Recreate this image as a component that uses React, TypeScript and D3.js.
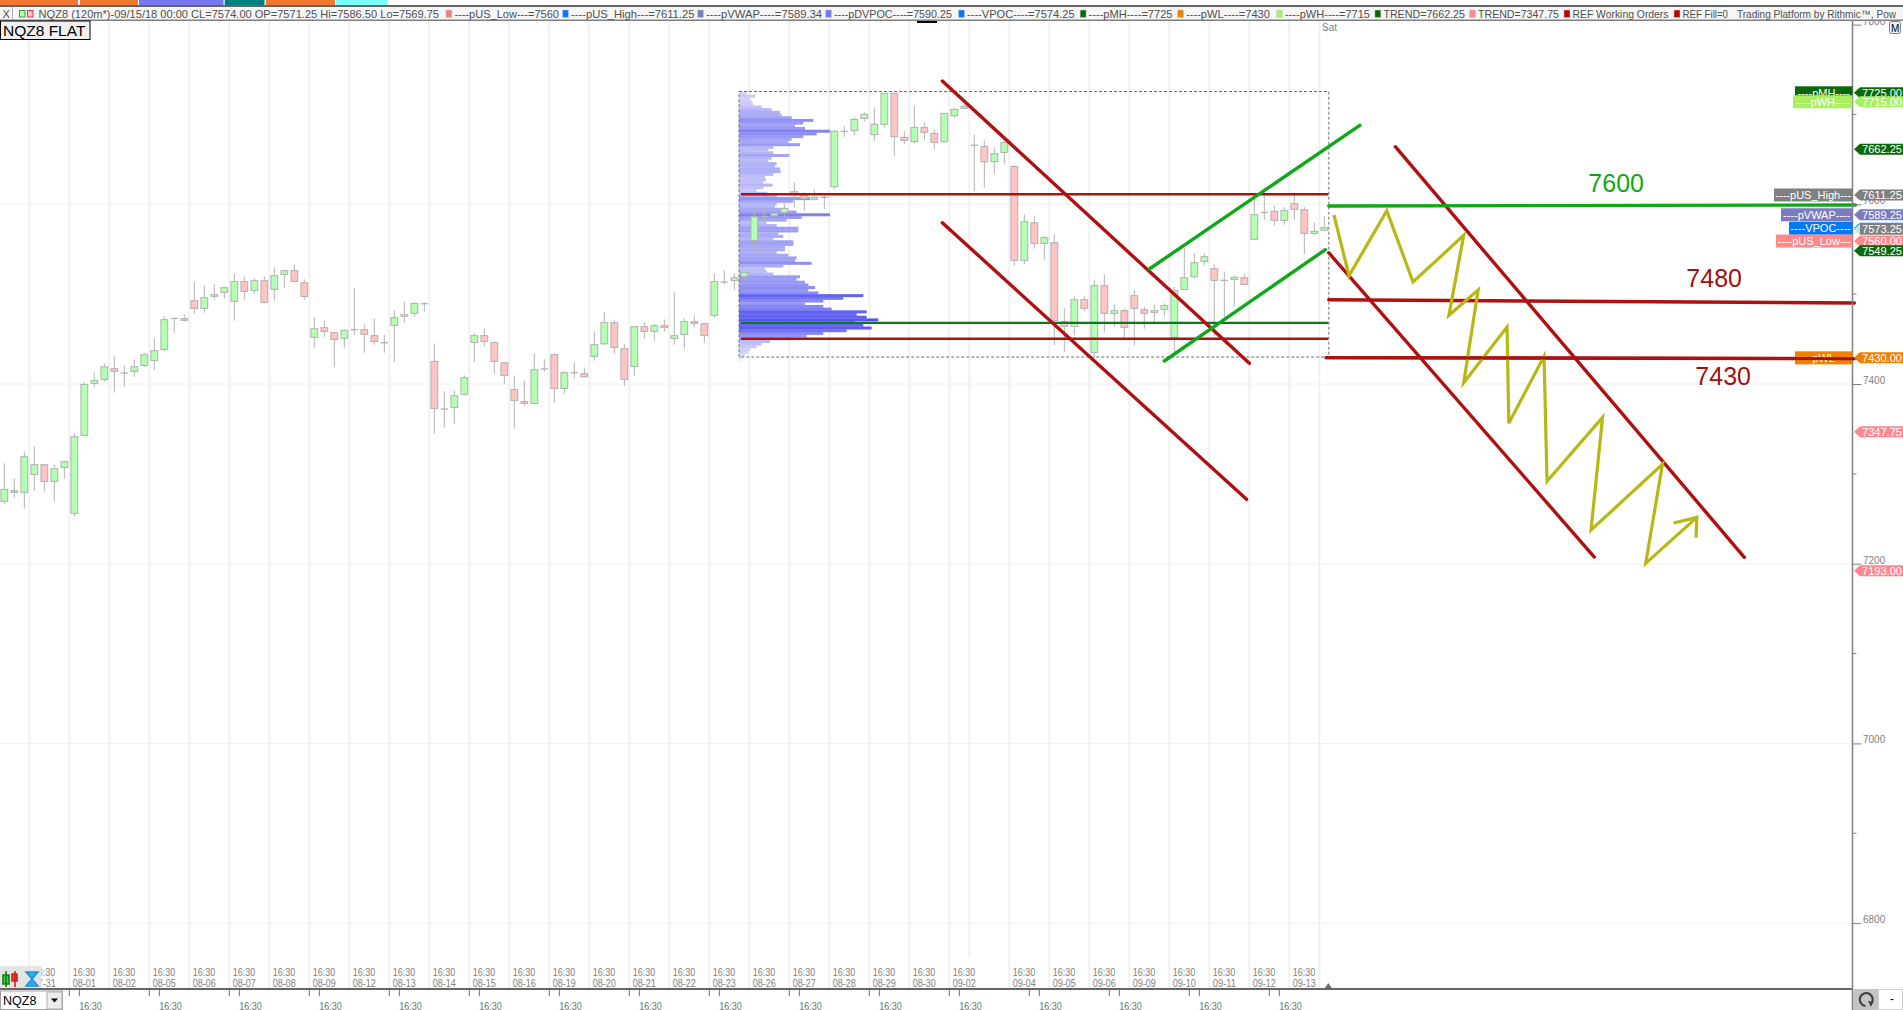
import { useRef, useEffect } from 'react';
import * as d3 from 'd3';

// NQZ8 120 minute bars, index 0 is the first bar on the left
const opens = [
  7269.4, 7281.2, 7279.4, 7299.4, 7310.2, 7291.6, 7307.2, 7256, 7342.8, 7400.7,
  7405.2, 7417, 7412.2, 7414.1, 7420.7, 7426.3, 7438.5, 7473, 7472.7, 7492.7,
  7484.2, 7497.5, 7502, 7492, 7513.9, 7504.2, 7515, 7505.3, 7522, 7526.1,
  7512.7, 7451.9, 7462.7, 7457.1, 7450.8, 7460.4, 7460.4, 7453.8, 7446, 7465.3,
  7475.3, 7478.6, 7489.4, 7425.2, 7372.1, 7374, 7388.5, 7446.3, 7453.8, 7446,
  7423.7, 7393.7, 7380.3, 7378.4, 7416.7, 7432.6, 7395.1, 7412.6, 7411.5, 7430.8,
  7444.8, 7468.2, 7439.3, 7419.6, 7463.8, 7458.6, 7464.9, 7450.8, 7455.2, 7469.3,
  7467.1, 7476.4, 7513.5, 7515.3, 7519.8, 7559.8, 7586.2, 7587.3, 7590.6, 7614,
  7609.6, 7605.5, 7607.7, 7619.6, 7681.2, 7681.9, 7695.6, 7677.5, 7689, 7723.5,
  7674.5, 7669.7, 7685.6, 7678.9, 7669.7, 7698.6, 7706.8, 7665.6, 7664.5, 7647.4,
  7657.8, 7642.2, 7537.6, 7579.5, 7556.5, 7557.3, 7469.3, 7464.1, 7493.8, 7435.2,
  7509.4, 7478.6, 7481.6, 7498.3, 7482.7, 7479.7, 7483.1, 7451.9, 7505.3, 7519.4,
  7536.5, 7528.3, 7515.3, 7516.4, 7518.3, 7561, 7591, 7592.1, 7582.1, 7600.7,
  7594, 7567.6, 7571.25,
];
const highs = [
  7311.7, 7295, 7325, 7330.6, 7310.2, 7310.2, 7314.6, 7345.1, 7401.8, 7412.9,
  7423, 7430.8, 7420.7, 7427.4, 7434.1, 7450.8, 7475.3, 7473, 7477.5, 7514.2,
  7509.8, 7510.9, 7508.3, 7523.1, 7519.8, 7517.6, 7519.8, 7529.8, 7527.6, 7533.1,
  7516.5, 7474.2, 7470.8, 7458.2, 7460.8, 7506.4, 7466.4, 7473, 7454.5, 7481.9,
  7492, 7490.9, 7490.9, 7445.2, 7391.8, 7392.9, 7409.6, 7456.3, 7461.9, 7447.4,
  7423.7, 7409.6, 7404, 7434.1, 7427.4, 7434.1, 7414.1, 7424.1, 7418.5, 7458.6,
  7479.7, 7471.6, 7444.8, 7463.8, 7468.6, 7467.1, 7471.9, 7502, 7473, 7476.4,
  7468.2, 7523.1, 7526.5, 7523.1, 7523.9, 7594.4, 7594.4, 7592.9, 7601, 7624.4,
  7613.3, 7616.6, 7610.3, 7682.6, 7687.1, 7696.7, 7702.3, 7707.9, 7723.5, 7723.5,
  7681.5, 7710.1, 7691.2, 7683.4, 7701.2, 7706.8, 7712.3, 7677.8, 7671.1, 7663.4,
  7670.8, 7643.3, 7588.8, 7587.7, 7565, 7566.5, 7484.2, 7497.5, 7497.5, 7516.1,
  7522, 7488.6, 7484.2, 7504.2, 7486.4, 7488.6, 7489.7, 7508.3, 7550.9, 7545.4,
  7545.4, 7533.1, 7525.3, 7520.9, 7523.1, 7608.4, 7614, 7598.4, 7596.6, 7613.3,
  7597.3, 7579.9, 7586.5,
];
const lows = [
  7266.8, 7273.4, 7261.2, 7281.2, 7280.1, 7269, 7294.6, 7252.3, 7342.8, 7395.9,
  7402.6, 7390.3, 7397, 7408.1, 7419.2, 7415.9, 7437.1, 7457.1, 7469.7, 7478.2,
  7479.4, 7493.8, 7494.9, 7470.4, 7493.8, 7500.5, 7489.7, 7492.7, 7507.2, 7514.2,
  7493.8, 7440.4, 7452.6, 7419.2, 7440.4, 7454.9, 7434.8, 7443.7, 7434.8, 7424.8,
  7468.2, 7474.9, 7480.5, 7344.7, 7351.4, 7355.8, 7387, 7424.8, 7442.3, 7411.1,
  7400, 7350.2, 7375.8, 7378.4, 7413.7, 7379.2, 7389.2, 7407, 7407, 7425.9,
  7443.4, 7433.7, 7398.1, 7409.2, 7450.4, 7448.2, 7458.2, 7443.7, 7439.3, 7462.7,
  7446, 7473.8, 7510.5, 7504.6, 7515, 7546.1, 7578.8, 7582.5, 7586.9, 7596.6,
  7592.9, 7604, 7594.7, 7617, 7675.2, 7677.1, 7691.9, 7670.4, 7685.2, 7653.7,
  7667.1, 7667.8, 7670.8, 7661.5, 7669.7, 7696.4, 7706, 7614.8, 7618.5, 7634,
  7644.4, 7531.7, 7533.5, 7550.6, 7538.3, 7443.4, 7435.9, 7454.5, 7481.2, 7429.3,
  7457.1, 7463.8, 7450.8, 7442.6, 7461.5, 7469.3, 7474.9, 7434.1, 7505.3, 7517.2,
  7531.7, 7452.6, 7474.1, 7487.1, 7509.8, 7561, 7582.5, 7576.2, 7577.3, 7582.5,
  7544.3, 7566.2, 7569.75,
];
const closes = [
  7282.7, 7279.4, 7319.1, 7310.2, 7291.6, 7305.7, 7313.5, 7341.3, 7399.6, 7404,
  7419.2, 7414.1, 7412.2, 7419.2, 7432.6, 7437.1, 7471.6, 7473, 7470.8, 7484.2,
  7496, 7499.4, 7507.2, 7513.9, 7503.1, 7515, 7490.9, 7520.5, 7526.1, 7514.2,
  7497.5, 7461.5, 7458.6, 7449.7, 7459.7, 7460.4, 7455.2, 7447.4, 7446, 7473.8,
  7477.1, 7489.7, 7489.4, 7372.9, 7372.1, 7387, 7407, 7453.8, 7447.4, 7425.2,
  7409.6, 7381.8, 7378.4, 7415.9, 7416.7, 7395.1, 7412.6, 7412.6, 7408.1, 7443.7,
  7468.2, 7440.8, 7405.2, 7463.8, 7458.6, 7464.9, 7463, 7453.8, 7469.3, 7467.5,
  7454.1, 7513.9, 7513.5, 7518.3, 7523.9, 7586.2, 7586.2, 7589.9, 7595.5, 7610.7,
  7606.6, 7607.7, 7607.7, 7681.2, 7681.2, 7694.5, 7700.1, 7689, 7723.5, 7675.2,
  7671.1, 7685.6, 7680.1, 7668.9, 7701.2, 7705.7, 7709, 7665.6, 7647.4, 7656.3,
  7668.6, 7537.6, 7580.6, 7556.5, 7562.8, 7470.4, 7464.1, 7493.8, 7484.2, 7509.4,
  7478.6, 7481.6, 7463, 7484.2, 7478.6, 7481.6, 7487.1, 7503.8, 7518.3, 7535,
  7541.7, 7515.3, 7515.3, 7518.7, 7510.9, 7588.4, 7591, 7582.1, 7592.9, 7594.4,
  7567.6, 7569.9, 7574,
];

// volume profile, one row every 3 points going down from profileTop
const profileTop = 7725;
const profileBottom = 7430;
const profileVolumes = [
  23, 48, 33, 38, 43, 68, 98, 123, 128, 158, 223, 193, 168, 198, 273, 233, 193, 158, 148, 183,
  103, 88, 103, 151, 98, 88, 113, 108, 123, 125, 103, 78, 81, 73, 101, 73, 53, 85, 113, 213,
  163, 113, 108, 143, 173, 273, 188, 143, 83, 113, 178, 178, 118, 133, 103, 163, 163, 138, 138, 113,
  148, 173, 168, 218, 133, 78, 83, 103, 183, 173, 198, 208, 228, 208, 238, 373, 313, 253, 198, 253,
  278, 383, 353, 383, 418, 348, 373, 398, 323, 253, 203, 163, 93, 68, 53, 33, 28, 18, 8, 3,
];

// session levels inside the profile box
const profileLevels = [
  { price: 7611.25, color: '#b01010' },
  { price: 7468, color: '#0a7a1a' },
  { price: 7450.4, color: '#b01010' },
];

// hand drawn studies, [bar index, price]
const redLines: [number, number][][] = [
  [[93.8, 7737.2], [124.5, 7423]],
  [[93.8, 7579.5], [124.22, 7271.7]],
  [[139.1, 7664.1], [174, 7207.1]],
  [[132.44, 7546.1], [159, 7207.4]],
  [[132.44, 7493.8], [185, 7490.1]],
  [[132.17, 7429.3], [185, 7428.2]],
];
const greenLines: [number, number][][] = [
  [[114.5, 7528], [135.55, 7687.9]],
  [[116, 7425.6], [132.1, 7549.5]],
  [[132.44, 7598.1], [185.12, 7599.2]],
];
const zigzag: [number, number][] = [
  [132.96, 7588.1], [134.47, 7520.5], [138.25, 7592.9], [140.87, 7513.5], [145.94, 7565.5],
  [144.46, 7476.5], [147.38, 7504.6], [145.94, 7401.4], [150.27, 7463.4], [150.45, 7356.3],
  [153.97, 7430.8], [154.27, 7291.7], [159.82, 7362.9], [158.67, 7237.5], [165.81, 7310.6],
  [164.14, 7200.4], [169.25, 7251.6],
];
const zigzagHead: [number, number][] = [[166.92, 7245.3], [169.25, 7251.6], [169.17, 7229]];

const priceNotes = [
  { text: '7600', bar: 158.4, price: 7613.7, color: '#10a810' },
  { text: '7480', bar: 168.2, price: 7508.5, color: '#a01010' },
  { text: '7430', bar: 169.1, price: 7399, color: '#a01010' },
];

const priceTicks = [7800, 7600, 7400, 7200, 7000, 6800];
const minorTicks = [7700, 7500, 7300, 7100, 6900];

// right hand price flags
const priceTags = [
  { value: 7725, color: '#0a6a0a', text: '#ffffff', label: '----pMH----', boxLeft: 1795 },
  { value: 7715, color: '#a8f060', text: '#ffffff', label: '----pWH----', boxLeft: 1793 },
  { value: 7662.25, color: '#0a6a0a', text: '#ffffff', label: '', boxLeft: 0 },
  { value: 7611.25, color: '#808080', text: '#ffffff', label: '----pUS_High---', boxLeft: 1774 },
  { value: 7589.25, color: '#7b7bc0', text: '#ffffff', label: '----pVWAP----', boxLeft: 1781 },
  { value: 7574.25, color: '#0078ff', text: '#ffffff', label: '----VPOC----', boxLeft: 1789, hideValue: true },
  { value: 7573.25, color: '#b8f0c8', text: '#ffffff', label: '', boxLeft: 0, lastPrice: true },
  { value: 7560, color: '#ff8888', text: '#ffffff', label: '----pUS_Low---', boxLeft: 1776 },
  { value: 7549.25, color: '#0a6a0a', text: '#ffffff', label: '', boxLeft: 0 },
  { value: 7430, color: '#f08000', text: '#ffffff', label: '----pWL----', boxLeft: 1795 },
  { value: 7347.75, color: '#ff8890', text: '#ffffff', label: '', boxLeft: 0 },
  { value: 7193, color: '#ff8890', text: '#ffffff', label: '', boxLeft: 0 },
];

// date labels, one every 4 bars with the holiday gap before 09-04
const sessionDates = [
  '07-31', '08-01', '08-02', '08-05', '08-06', '08-07', '08-08', '08-09', '08-12', '08-13',
  '08-14', '08-15', '08-16', '08-19', '08-20', '08-21', '08-22', '08-23', '08-26', '08-27',
  '08-28', '08-29', '08-30', '09-02',
];
const lateDates = ['09-04', '09-05', '09-06', '09-09', '09-10', '09-11', '09-12', '09-13'];

const headerItems = [
  { swatch: null, x: 38.6, end: 439, text: 'NQZ8 (120m*)-09/15/18 00:00 CL=7574.00 OP=7571.25 Hi=7586.50 Lo=7569.75' },
  { swatch: '#f08080', x: 454.4, end: 559, text: '----pUS_Low---=7560' },
  { swatch: '#0078ff', x: 571, end: 694.4, text: '----pUS_High---=7611.25' },
  { swatch: '#7b7bc0', x: 706, end: 822, text: '----pVWAP----=7589.34' },
  { swatch: '#7878f0', x: 834, end: 952, text: '----pDVPOC----=7590.25' },
  { swatch: '#0078ff', x: 967, end: 1074.6, text: '----VPOC----=7574.25' },
  { swatch: '#0a6a0a', x: 1088.6, end: 1172.5, text: '----pMH----=7725' },
  { swatch: '#f08000', x: 1186, end: 1270, text: '----pWL----=7430' },
  { swatch: '#a8f060', x: 1285, end: 1370, text: '----pWH----=7715' },
  { swatch: '#0a6a0a', x: 1383.4, end: 1465, text: 'TREND=7662.25' },
  { swatch: '#ff8890', x: 1478, end: 1559, text: 'TREND=7347.75' },
  { swatch: '#c00000', x: 1572.5, end: 1668.5, text: 'REF Working Orders' },
  { swatch: '#c00000', x: 1682.5, end: 1728, text: 'REF Fill=0' },
  { swatch: null, x: 1737, end: 1896, text: 'Trading Platform by Rithmic\u2122, Pow' },
];

const topTabs = [
  { x0: 0, x1: 78, color: '#f07830' },
  { x0: 80, x1: 138, color: '#f07830' },
  { x0: 139, x1: 223.5, color: '#7878f0' },
  { x0: 224.7, x1: 264.5, color: '#008080' },
  { x0: 265.8, x1: 335, color: '#f07830' },
  { x0: 336, x1: 388, color: '#80ffff' },
];

const WIDTH = 1903;
const HEIGHT = 1010;
const FONT = '"Liberation Sans", Arial, sans-serif';
const AXIS_X = 1852.5;
const BOTTOM_Y = 989;

export default function App() {
  const svgRef = useRef<SVGSVGElement>(null);

  useEffect(() => {
    if (!svgRef.current) return;
    const svg = d3.select(svgRef.current);
    svg.selectAll('*').remove();

    const x = d3.scaleLinear().domain([0, 132]).range([4.33, 1324.33]);
    const y = d3.scaleLinear().domain([6800, 7800]).range([923.1, 24.6]);
    const line = d3.line<[number, number]>().x((d) => x(d[0])).y((d) => y(d[1]));

    svg.append('rect').attr('width', WIDTH).attr('height', HEIGHT).attr('fill', '#ffffff');

    // Grid
    const grid = svg.append('g').attr('stroke', '#f0f0f0');
    priceTicks.slice(1).forEach((p) => {
      grid.append('line').attr('x1', 0).attr('x2', AXIS_X).attr('y1', y(p)).attr('y2', y(p));
    });
    const dayBars = sessionDates.map((_, i) => 2.5 + i * 4);
    const lateBars = lateDates.map((_, i) => 100.5 + i * 4);
    [...dayBars, ...lateBars, 131.5].forEach((b) => {
      grid.append('line').attr('x1', x(b)).attr('x2', x(b)).attr('y1', 20).attr('y2', BOTTOM_Y).attr('stroke-width', 2);
    });
    grid.append('line').attr('x1', x(96.5)).attr('x2', x(96.5)).attr('y1', 20).attr('y2', 958).attr('stroke-width', 2);

    // Volume profile
    const volumeX = d3.scaleLinear().domain([0, d3.max(profileVolumes) ?? 1]).range([739, 878.3]);
    const volumeColor = d3.scaleLinear<string>().domain([0, 120, 418]).range(['#dcdcfc', '#aeaef6', '#5656f0']);
    svg.append('g').selectAll('rect').data(profileVolumes).join('rect')
      .attr('x', volumeX(0))
      .attr('y', (_, i) => y(profileTop - i * 3))
      .attr('width', (d) => volumeX(d) - volumeX(0))
      .attr('height', y(profileTop - 3) - y(profileTop) + 0.3)
      .attr('fill', (d) => volumeColor(d));

    svg.append('rect')
      .attr('x', volumeX(0)).attr('y', y(profileTop) - 0.5)
      .attr('width', x(132.45) - volumeX(0)).attr('height', y(profileBottom) - y(profileTop) + 0.5)
      .attr('fill', 'none').attr('stroke', '#707070').attr('stroke-dasharray', '3,2');

    // Candles
    const candles = svg.append('g');
    opens.forEach((open, i) => {
      const close = closes[i];
      candles.append('line')
        .attr('x1', x(i)).attr('x2', x(i)).attr('y1', y(highs[i])).attr('y2', y(lows[i]))
        .attr('stroke', '#b4b4b4').attr('stroke-width', 1);
      if (open === close) {
        candles.append('line')
          .attr('x1', x(i) - 3.6).attr('x2', x(i) + 3.6).attr('y1', y(open)).attr('y2', y(open))
          .attr('stroke', '#b4b4b4').attr('stroke-width', 1.4);
        return;
      }
      candles.append('rect')
        .attr('x', x(i) - 3.4).attr('width', 6.8)
        .attr('y', y(Math.max(open, close)))
        .attr('height', Math.abs(y(open) - y(close)))
        .attr('fill', close > open ? '#b3ffb3' : '#ffc4c4')
        .attr('stroke', '#b0b0b0').attr('stroke-width', 1);
    });

    // Profile levels
    profileLevels.forEach((l) => {
      svg.append('line')
        .attr('x1', 741).attr('x2', x(132.4)).attr('y1', y(l.price)).attr('y2', y(l.price))
        .attr('stroke', l.color).attr('stroke-width', 2.4);
    });

    // Drawn lines
    redLines.forEach((pts) => {
      svg.append('path').attr('d', line(pts)).attr('fill', 'none')
        .attr('stroke', '#b01010').attr('stroke-width', 3.4).attr('stroke-linecap', 'round');
    });
    greenLines.forEach((pts) => {
      svg.append('path').attr('d', line(pts)).attr('fill', 'none')
        .attr('stroke', '#10a818').attr('stroke-width', 3.4).attr('stroke-linecap', 'round');
    });
    [zigzag, zigzagHead].forEach((pts) => {
      svg.append('path').attr('d', line(pts)).attr('fill', 'none')
        .attr('stroke', '#b8b814').attr('stroke-width', 3.2).attr('stroke-linejoin', 'miter');
    });
    priceNotes.forEach((n) => {
      svg.append('text').attr('x', x(n.bar)).attr('y', y(n.price))
        .attr('font-family', FONT).attr('font-size', 25).attr('fill', n.color).text(n.text);
    });

    // Time axis labels
    const timeLabel = (tx: number, ty: number, text: string, len?: number) => {
      const t = svg.append('text').attr('x', tx).attr('y', ty)
        .attr('font-family', FONT).attr('font-size', 10).attr('fill', '#808080').text(text);
      if (len) t.attr('textLength', len).attr('lengthAdjust', 'spacingAndGlyphs');
    };
    sessionDates.forEach((d, i) => {
      timeLabel(x(dayBars[i]) + 3.5, 975.5, '16:30', 22.5);
      timeLabel(x(dayBars[i]) + 3.5, 986.5, d, 23);
    });
    lateDates.forEach((d, i) => {
      timeLabel(x(lateBars[i]) + 3.5, 975.5, '16:30', 22.5);
      timeLabel(x(lateBars[i]) + 3.5, 986.5, d, 23);
    });
    timeLabel(1322, 31, 'Sat');
    svg.append('path')
      .attr('d', `M${x(132.4) - 3.5},${BOTTOM_Y - 1}L${x(132.4)},${BOTTOM_Y - 6}L${x(132.4) + 3.5},${BOTTOM_Y - 1}Z`)
      .attr('fill', '#707070');

    // Lower tick row, a pair of ticks every 8 bars
    const majorBars = d3.range(6.5, 127, 8);
    majorBars.forEach((b) => {
      [b, b + 1].forEach((t) => {
        svg.append('line').attr('x1', x(t)).attr('x2', x(t)).attr('y1', BOTTOM_Y + 1).attr('y2', BOTTOM_Y + 7)
          .attr('stroke', '#707070');
      });
      const t = svg.append('text').attr('x', x(b + 1)).attr('y', 1010 - 0.5)
        .attr('font-family', FONT).attr('font-size', 10).attr('fill', '#707070').text('16:30');
      t.attr('textLength', 22.5).attr('lengthAdjust', 'spacingAndGlyphs');
    });

    // Bottom left tool icons and symbol box
    const tools = svg.append('g');
    tools.append('rect').attr('x', 0).attr('y', 966).attr('width', 41.5).attr('height', 22).attr('fill', '#e4e4e4');
    tools.append('path').attr('d', 'M6,971V987M3,975h6v9H3Z').attr('stroke', '#108010').attr('stroke-width', 1.6).attr('fill', '#40d040');
    tools.append('path').attr('d', 'M15,971V987M12,974h5v7h-5Z').attr('stroke', '#d02020').attr('stroke-width', 1.6).attr('fill', '#f04040');
    tools.append('path').attr('d', 'M26,972h12l-6,7l6,7h-12l6,-7Z').attr('fill', '#30b0f0').attr('stroke', '#1890d8').attr('stroke-width', 1.5);
    tools.append('rect').attr('x', 0.5).attr('y', 991).attr('width', 62).attr('height', 18.5).attr('fill', '#ffffff').attr('stroke', '#a0a0a0');
    tools.append('rect').attr('x', 47).attr('y', 992).attr('width', 15).attr('height', 17).attr('fill', '#ececec').attr('stroke', '#b0b0b0');
    tools.append('path').attr('d', 'M51,998.5h7l-3.5,4Z').attr('fill', '#000000');
    tools.append('text').attr('x', 3).attr('y', 1005).attr('font-family', FONT).attr('font-size', 12.5).attr('fill', '#000000').text('NQZ8');

    // Frame lines
    svg.append('line').attr('x1', 0).attr('x2', AXIS_X).attr('y1', BOTTOM_Y).attr('y2', BOTTOM_Y)
      .attr('stroke', '#666666').attr('stroke-width', 2);

    // Price axis
    const axis = svg.append('g').attr('transform', `translate(${AXIS_X},0)`)
      .call(d3.axisRight(y).tickValues(priceTicks).tickSize(9).tickSizeOuter(0).tickFormat(d3.format('d')));
    axis.select('.domain').attr('stroke', '#808080').attr('stroke-width', 1.5).attr('d', `M0,20V${HEIGHT}`);
    axis.selectAll('.tick line').attr('stroke', '#808080');
    axis.selectAll('.tick text')
      .attr('x', 10.5).attr('dy', '0').attr('y', -0.5)
      .attr('fill', '#808080').attr('font-family', FONT).attr('font-size', 10);
    minorTicks.forEach((p) => {
      svg.append('line').attr('x1', AXIS_X).attr('x2', AXIS_X + 4).attr('y1', y(p)).attr('y2', y(p)).attr('stroke', '#808080');
    });

    // Price tags and their name boxes
    priceTags.forEach((tag) => {
      const cy = y(tag.value) + 0.8;
      const g = svg.append('g');
      if (tag.label) {
        g.append('rect').attr('x', tag.boxLeft).attr('y', cy - 6.5).attr('width', AXIS_X - tag.boxLeft).attr('height', 13).attr('fill', tag.color);
        g.append('text').attr('x', (tag.boxLeft + AXIS_X) / 2).attr('y', cy + 4).attr('text-anchor', 'middle')
          .attr('font-family', FONT).attr('font-size', 11).attr('fill', tag.text).text(tag.label);
      }
      g.append('path')
        .attr('d', `M1854,${cy}L1860,${cy - 5.5}H${WIDTH}V${cy + 5.5}H1860Z`)
        .attr('fill', tag.color);
      if (tag.lastPrice) {
        g.append('rect').attr('x', 1860).attr('y', cy - 5.5).attr('width', WIDTH - 1860).attr('height', 11).attr('fill', '#808080');
      }
      if (!tag.hideValue) {
        g.append('text').attr('x', 1862).attr('y', cy + 4.2)
          .attr('font-family', FONT).attr('font-size', 11.5).attr('fill', tag.text)
          .attr('textLength', 40).attr('lengthAdjust', 'spacingAndGlyphs').text(tag.value.toFixed(2));
      }
    });

    // Redraw the level lines that run over the pWL box
    svg.append('path').attr('d', line(redLines[5])).attr('fill', 'none').attr('stroke', '#b01010').attr('stroke-width', 3);

    // Bottom right buttons
    svg.append('rect').attr('x', 1853).attr('y', BOTTOM_Y).attr('width', 25).attr('height', 21).attr('fill', '#c4c4c4');
    svg.append('path').attr('d', 'M1871,1004A6.5,6.5,0,1,0,1865.5,1006').attr('fill', 'none').attr('stroke', '#404040').attr('stroke-width', 2.2);
    svg.append('path').attr('d', 'M1868,1001L1873,1002L1871,1007Z').attr('fill', '#404040');
    svg.append('rect').attr('x', 1878.5).attr('y', BOTTOM_Y + 0.5).attr('width', 24).attr('height', 20).attr('fill', '#ffffff').attr('stroke', '#d0d0d0');
    svg.append('text').attr('x', 1890).attr('y', 1003).attr('font-family', FONT).attr('font-size', 12).attr('fill', '#000000').text('-');

    // Top tabs and header row
    svg.append('rect').attr('x', 0).attr('y', 0).attr('width', WIDTH).attr('height', 20).attr('fill', '#f6f6f6');
    svg.append('rect').attr('x', 0).attr('y', 0).attr('width', WIDTH).attr('height', 5).attr('fill', '#ffffff');
    topTabs.forEach((t) => {
      svg.append('rect').attr('x', t.x0).attr('y', 0).attr('width', t.x1 - t.x0).attr('height', 5).attr('fill', t.color);
    });
    svg.append('rect').attr('x', 0).attr('y', 5).attr('width', WIDTH).attr('height', 2).attr('fill', '#666666');
    svg.append('rect').attr('x', 0).attr('y', 19.5).attr('width', WIDTH).attr('height', 1.5).attr('fill', '#808080');
    svg.append('line').attr('x1', 12.5).attr('x2', 12.5).attr('y1', 7).attr('y2', 20).attr('stroke', '#b0b0b0');
    svg.append('text').attr('x', 2.5).attr('y', 18).attr('font-family', FONT).attr('font-size', 11).attr('fill', '#505050').text('X');
    svg.append('rect').attr('x', 19.5).attr('y', 10.5).attr('width', 5.5).attr('height', 6.5).attr('fill', '#b3ffb3').attr('stroke', '#30a030');
    svg.append('rect').attr('x', 27.5).attr('y', 10.5).attr('width', 5.5).attr('height', 6.5).attr('fill', '#ffc4c4').attr('stroke', '#d04040');
    headerItems.forEach((h) => {
      if (h.swatch) {
        svg.append('rect').attr('x', h.x - 8.5).attr('y', 10).attr('width', 6).attr('height', 7.5)
          .attr('fill', h.swatch).attr('stroke', '#d0d0d0').attr('stroke-width', 0.5);
      }
      svg.append('text').attr('x', h.x).attr('y', 18)
        .attr('font-family', FONT).attr('font-size', 11).attr('fill', '#505050')
        .attr('textLength', h.end - h.x).attr('lengthAdjust', 'spacingAndGlyphs').text(h.text);
    });
    svg.append('rect').attr('x', 917).attr('y', 21).attr('width', 20).attr('height', 2).attr('fill', '#000000');

    // Chart title box
    svg.append('rect').attr('x', 0.5).attr('y', 21).attr('width', 89.5).attr('height', 18.5).attr('fill', '#f0f0f0').attr('stroke', '#000000');
    svg.append('text').attr('x', 3).attr('y', 36).attr('font-family', FONT).attr('font-size', 15.5).attr('fill', '#000000').text('NQZ8 FLAT');

    svg.append('rect').attr('x', 1889.5).attr('y', 21.5).attr('width', 11).attr('height', 12).attr('rx', 2).attr('fill', '#f0f0f0').attr('stroke', '#808080');
    svg.append('text').attr('x', 1891).attr('y', 31.5).attr('font-family', FONT).attr('font-size', 10).attr('fill', '#000000').text('M');
  }, []);

  return (
    <svg
      ref={svgRef}
      width={WIDTH}
      height={HEIGHT}
      viewBox={`0 0 ${WIDTH} ${HEIGHT}`}
      style={{ position: 'fixed', left: 0, top: 0, display: 'block' }}
      role="img"
      aria-label="NQZ8 120 minute candlestick chart with volume profile"
    />
  );
}
